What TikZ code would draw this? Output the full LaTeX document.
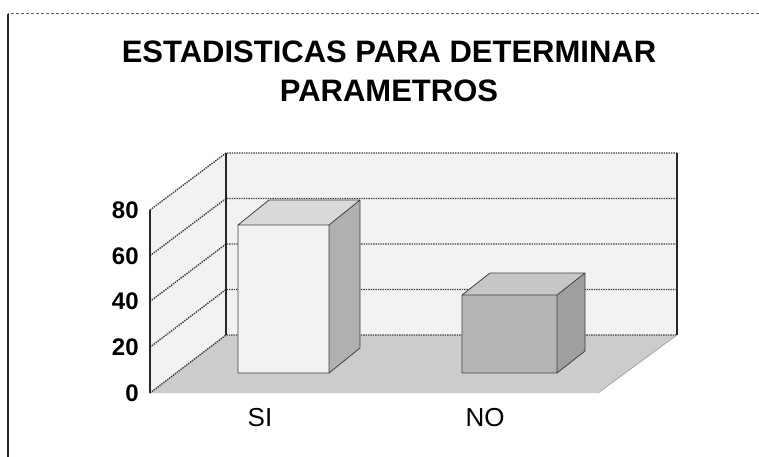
\documentclass[tikz,border=0pt]{standalone}
\usepackage{fontspec}
\setmainfont{Liberation Sans}
\usepackage{tikz}
\usetikzlibrary{positioning,calc}

\tikzset{
	wall/.style={fill=gray!10},
	floor/.style={fill=gray!40},
	gridline/.style={densely dotted, line width=1.4pt, black!75},
	barline/.style={draw=black!75, line width=0.8pt},
	axislabel/.style={anchor=east, inner sep=0pt, font=\fontsize{24}{24}\selectfont\bfseries},
	catlabel/.style={inner sep=0pt, font=\fontsize{26}{26}\selectfont},
	titlelabel/.style={anchor=base, inner sep=0pt, font=\fontsize{31}{31}\selectfont\bfseries}
}

\begin{document}
\begin{tikzpicture}[x=1pt,y=-1pt,thick]
	\useasboundingbox (0,0) rectangle (759,457);

	\coordinate (frame-top) at (759,14);
	\coordinate (frame-corner) at (8,14);
	\coordinate (frame-bottom) at (8,457);
	\draw[black!60, densely dashed, line width=1pt] (frame-top) -- (frame-corner);
	\draw[black!85, line width=1.4pt] (frame-corner) -- (frame-bottom);

	\node[titlelabel] (title1) at (389,63) {ESTADISTICAS PARA DETERMINAR};
	\node[titlelabel] (title2) at (389,102) {PARAMETROS};

	\coordinate (front-0) at (150,393);
	\coordinate (front-80) at (150,210);
	\coordinate (back-0) at (226,335);
	\coordinate (back-80) at (226,153);
	\coordinate (right-0) at (677,335);
	\coordinate (right-80) at (677,153);
	\coordinate (front-right) at (598,393);

	\fill[wall] (front-0) -- (front-80) -- (back-80) -- (back-0) -- cycle;
	\fill[wall] (back-0) -- (back-80) -- (right-80) -- (right-0) -- cycle;
	\fill[floor] (front-0) -- (back-0) -- (right-0) -- (front-right) -- cycle;

	\foreach \v in {20,40,60}
		\draw[gridline] (150,{393-2.2875*\v}) -- (226,{335-2.275*\v}) -- (677,{335-2.275*\v});

	\draw[gridline] (front-80) -- (back-80) -- (right-80)
		(front-0) -- (back-0) -- (right-0);
	\draw[black!85, line width=1.2pt] (back-0) -- (back-80)
		(right-80) -- (right-0)
		(front-0) -- (front-80);
	\draw[black!40, line width=0.6pt] (right-0) -- (front-right);

	\foreach \v in {0,20,...,80}
		\node[axislabel] (tick\v) at (139,{393-2.2875*\v}) {\v};

	% barra SI
	\fill[gray!10] (238,373) rectangle (329,225);
	\fill[gray!30] (238,225) -- (269,200) -- (360,200) -- (329,225) -- cycle;
	\fill[gray!62] (329,225) -- (360,200) -- (360,348) -- (329,373) -- cycle;
	\draw[barline] (238,373) -- (238,225) -- (269,200) -- (360,200) -- (360,348) -- (329,373) -- cycle
		(238,225) -- (329,225) -- (329,373)
		(329,225) -- (360,200);

	% barra NO
	\fill[gray!58] (462,373) rectangle (557,295);
	\fill[gray!45] (462,295) -- (490,273) -- (585,273) -- (557,295) -- cycle;
	\fill[gray!75] (557,295) -- (585,273) -- (585,351) -- (557,373) -- cycle;
	\draw[barline] (462,373) -- (462,295) -- (490,273) -- (585,273) -- (585,351) -- (557,373) -- cycle
		(462,295) -- (557,295) -- (557,373)
		(557,295) -- (585,273);

	\node[catlabel] (si) at (260,418) {SI};
	\node[catlabel] (no) at (485,418) {NO};
\end{tikzpicture}
\end{document}
